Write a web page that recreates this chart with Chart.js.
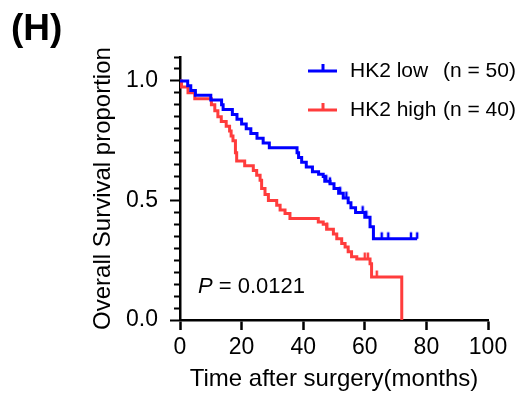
<!DOCTYPE html>
<html>
<head>
<meta charset="utf-8">
<script src="https://cdn.jsdelivr.net/npm/chart.js@4.4.1/dist/chart.umd.min.js"></script>
<style>
  html, body { margin: 0; padding: 0; background: #fff; }
</style>
</head>
<body>
<canvas id="km" width="518" height="394"></canvas>
<script>
// --- data ---
const lowTimes = [0, 2.5, 3.5, 5, 10, 13.5, 14, 17, 18.5, 20, 21.5, 23, 25, 27, 29, 38, 38.5, 39.5, 41, 43, 45, 46.5, 47, 48.7, 50, 51.5, 53, 54.6, 55.5, 57, 60, 61.7, 62.8, 77];
const lowSurv  = [1, 0.98, 0.96, 0.94, 0.92, 0.90, 0.88, 0.86, 0.84, 0.82, 0.80, 0.78, 0.76, 0.74, 0.72, 0.70, 0.68, 0.66, 0.64, 0.62, 0.61, 0.60, 0.58, 0.57, 0.55, 0.53, 0.51, 0.49, 0.47, 0.45, 0.43, 0.39, 0.34, 0.34];
const lowCensorTimes = [47.5, 48.7, 52, 54, 59.3, 60.5, 65.5, 67.6, 75, 77];
const lowCensorSurv  = [0.58, 0.57, 0.53, 0.51, 0.45, 0.43, 0.34, 0.34, 0.34, 0.34];

const highTimes = [0, 0.5, 2.6, 4.8, 10.2, 11.3, 12.3, 13.4, 15.0, 16.1, 16.6, 17.2, 18.0, 18.4, 21.0, 23.8, 24.9, 26.0, 26.5, 27.6, 28.7, 31.4, 32.5, 34.1, 35.7, 44.9, 46.5, 47.6, 49.8, 50.9, 52.5, 53.6, 54.6, 55.7, 57.4, 61.7, 62.2, 72];
const highSurv  = [1, 0.975, 0.95, 0.925, 0.90, 0.875, 0.85, 0.83, 0.81, 0.79, 0.77, 0.75, 0.70, 0.665, 0.645, 0.625, 0.605, 0.585, 0.55, 0.525, 0.50, 0.48, 0.46, 0.445, 0.425, 0.41, 0.40, 0.38, 0.36, 0.34, 0.32, 0.305, 0.285, 0.265, 0.255, 0.235, 0.18, 0];
const highCensorTimes = [47.8, 60, 61, 63.9];
const highCensorSurv  = [0.38, 0.255, 0.255, 0.18];

const xTicks = [0, 20, 40, 60, 80, 100];
const yTicks = [0, 0.05, 0.1, 0.15, 0.2, 0.25, 0.3, 0.35, 0.4, 0.45, 0.5, 0.55, 0.6, 0.65, 0.7, 0.75, 0.8, 0.85, 0.9, 0.95, 1.0, 1.05, 1.1];
const yMajor = [0, 0.5, 1.0];
const yMajorLabels = ['0.0', '0.5', '1.0'];

const legendNames = ['HK2 low', 'HK2 high'];
const legendCounts = ['(n = 50)', '(n = 40)'];
const pValueText = '0.0121';

const BLUE = '#0000ff';
const RED = '#ff3c3c';
const FONT = '"Liberation Sans", Arial, Helvetica, sans-serif';

const toPts = (xs, ys) => xs.map((t, i) => ({ x: t, y: ys[i] }));
const isMajor = v => yMajor.some(m => Math.abs(m - v) < 1e-6);

// small upward tick used for censored patients
function censorMark(color) {
    const c = document.createElement('canvas');
    c.width = 8; c.height = 16;
    const g = c.getContext('2d');
    g.strokeStyle = color;
    g.lineWidth = 2.5;
    g.beginPath();
    g.moveTo(4, 1.5);
    g.lineTo(4, 8);
    g.stroke();
    return c;
}

// panel letter, legend and p value
const annotations = {
    id: 'annotations',
    afterDraw(chart) {
        const ctx = chart.ctx;
        ctx.save();
        ctx.fillStyle = '#000';
        ctx.textBaseline = 'middle';
        ctx.textAlign = 'left';

        ctx.font = 'bold 37px ' + FONT;
        ctx.fillText('(H)', 11, 30);

        const colors = [BLUE, RED];
        const rowY = [71, 110];
        legendNames.forEach((name, i) => {
            const y = rowY[i];
            ctx.strokeStyle = colors[i];
            ctx.lineWidth = 3;
            ctx.beginPath();
            ctx.moveTo(308, y);
            ctx.lineTo(337, y);
            ctx.moveTo(323, y);
            ctx.lineTo(323, y - 7);
            ctx.stroke();
            ctx.font = '21px ' + FONT;
            ctx.fillText(name, 350, y);
            ctx.fillText(legendCounts[i], 443, y);
        });

        ctx.font = 'italic 22px ' + FONT;
        ctx.fillText('P', 198, 287);
        const pw = ctx.measureText('P').width;
        ctx.font = '22px ' + FONT;
        ctx.fillText(' = ' + pValueText, 198 + pw, 287);
        ctx.restore();
    }
};

new Chart(document.getElementById('km'), {
    type: 'line',
    data: {
        datasets: [
            {
                label: legendNames[0],
                data: toPts(lowTimes, lowSurv),
                borderColor: BLUE,
                borderWidth: 3,
                stepped: 'before',
                pointRadius: 0,
                fill: false
            },
            {
                label: legendNames[1],
                data: toPts(highTimes, highSurv),
                borderColor: RED,
                borderWidth: 3,
                stepped: 'before',
                pointRadius: 0,
                fill: false
            },
            {
                label: 'low censored',
                data: toPts(lowCensorTimes, lowCensorSurv),
                showLine: false,
                pointStyle: censorMark(BLUE),
                pointRadius: 4
            },
            {
                label: 'high censored',
                data: toPts(highCensorTimes, highCensorSurv),
                showLine: false,
                pointStyle: censorMark(RED),
                pointRadius: 4
            }
        ]
    },
    options: {
        responsive: false,
        animation: false,
        layout: { padding: { top: 57, right: 30, left: 0, bottom: 0 } },
        plugins: {
            legend: { display: false },
            tooltip: { enabled: false }
        },
        scales: {
            x: {
                type: 'linear',
                min: 0,
                max: 100,
                afterBuildTicks: s => { s.ticks = xTicks.map(v => ({ value: v })); },
                afterFit: s => { s.height = 74; },
                ticks: {
                    color: '#000',
                    font: { family: FONT, size: 23 },
                    padding: 4,
                    maxRotation: 0,
                    autoSkip: false
                },
                grid: {
                    drawOnChartArea: false,
                    tickLength: 10,
                    tickColor: '#000',
                    tickWidth: 2.5
                },
                border: { color: '#000', width: 2.5 },
                title: {
                    display: true,
                    text: 'Time after surgery(months)',
                    color: '#000',
                    font: { family: FONT, size: 24 },
                    padding: { top: 0, bottom: 0 }
                }
            },
            y: {
                type: 'linear',
                min: 0,
                max: 1.1,
                afterBuildTicks: s => { s.ticks = yTicks.map(v => ({ value: v })); },
                afterFit: s => { s.width = 180; },
                ticks: {
                    color: '#000',
                    font: { family: FONT, size: 23 },
                    padding: 12,
                    autoSkip: false,
                    callback: v => {
                        const k = yMajor.findIndex(m => Math.abs(m - v) < 1e-6);
                        return k >= 0 ? yMajorLabels[k] : '';
                    }
                },
                grid: {
                    drawOnChartArea: false,
                    tickLength: 10,
                    tickColor: '#000',
                    tickWidth: 2,
                    // minor ticks: skip the outer 4px so they come out shorter
                    tickBorderDash: c => (c.tick && isMajor(c.tick.value)) ? [] : [0, 4, 20]
                },
                border: { color: '#000', width: 2.5 },
                title: {
                    display: true,
                    text: 'Overall Survival proportion',
                    color: '#000',
                    font: { family: FONT, size: 24 },
                    padding: { top: 89, bottom: 0 }
                }
            }
        }
    },
    plugins: [annotations]
});
</script>
</body>
</html>
